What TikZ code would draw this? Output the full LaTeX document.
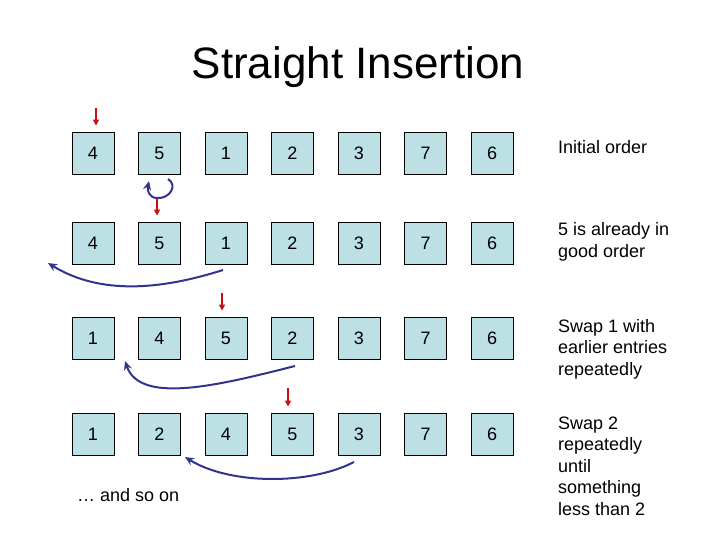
\documentclass[tikz,border=0pt]{standalone}
\usepackage{fontspec}
\setmainfont{Liberation Sans}
\usetikzlibrary{arrows.meta}
\definecolor{cellblue}{RGB}{189,224,228}
\definecolor{swapblue}{RGB}{51,51,140}
\definecolor{markred}{RGB}{200,16,16}
\tikzset{
  cell/.style={draw=black,line width=0.8pt,fill=cellblue,minimum size=42pt,inner sep=0pt,font=\fontsize{18}{21.5}\selectfont},
  pointer/.style={-{Triangle[length=6pt,width=6pt]},line width=1.6pt,draw=markred,shorten >=6pt},
  swaparrow/.style={-{Stealth[length=9pt,width=8pt]},line width=2pt,draw=swapblue},
  note/.style={anchor=west,align=left,inner sep=0pt,font=\fontsize{18}{21.5}\selectfont}
}

\begin{document}
\begin{tikzpicture}[x=1pt,y=-1pt]
\useasboundingbox (0,0) rectangle (720,540);
\node[font=\fontsize{44}{50}\selectfont] (title) at (358,67) {Straight Insertion};
% the four rows of the array
\foreach \v [count=\i] in {4,5,1,2,3,7,6} \node[cell] (r1c\i) at ({93+66.5*(\i-1)},153) {\v};
\foreach \v [count=\i] in {4,5,1,2,3,7,6} \node[cell] (r2c\i) at ({93+66.5*(\i-1)},243) {\v};
\foreach \v [count=\i] in {1,4,5,2,3,7,6} \node[cell] (r3c\i) at ({93+66.5*(\i-1)},338) {\v};
\foreach \v [count=\i] in {1,2,4,5,3,7,6} \node[cell] (r4c\i) at ({93+66.5*(\i-1)},434) {\v};
% notes on the right
\node[note] (n1) at (558,147) {Initial order};
\node[note] (n2) at (558,242) {5 is already in\\good order};
\node[note] (n3) at (558,349) {Swap 1 with\\earlier entries\\repeatedly};
\node[note] (n4) at (558,466) {Swap 2\\repeatedly\\until\\something\\less than 2};
\node[note] (more) at (77,495) {\dots\ and so on};
% current element
\coordinate (p1) at (96,108);
\coordinate (p2) at (157,198);
\coordinate (p3) at (222,293);
\coordinate (p4) at (288,388);
\draw[pointer] (p1) -- (p1 |- r1c1.north);
\draw[pointer] (p2) -- (p2 |- r2c2.north);
\draw[pointer] (p3) -- (p3 |- r3c3.north);
\draw[pointer] (p4) -- (p4 |- r4c4.north);
% moves
\coordinate (l1) at (168,179);
\coordinate (l2) at (149,181);
\draw[swaparrow] (l1) .. controls (178,185) and (170,199) .. (p2) .. controls (149,198) and (147,190) .. (l2);
\coordinate (s1) at (223,270);
\coordinate (e1) at (48,263);
\draw[swaparrow] (s1) .. controls (160,290) and (100,295) .. (e1);
\coordinate (s2) at (295,366);
\coordinate (e2) at (125,361);
\draw[swaparrow] (s2) .. controls (220,385) and (140,405) .. (e2);
\coordinate (s3) at (354,462);
\coordinate (e3) at (185,457);
\draw[swaparrow] (s3) .. controls (310,485) and (230,485) .. (e3);
\end{tikzpicture}
\end{document}
